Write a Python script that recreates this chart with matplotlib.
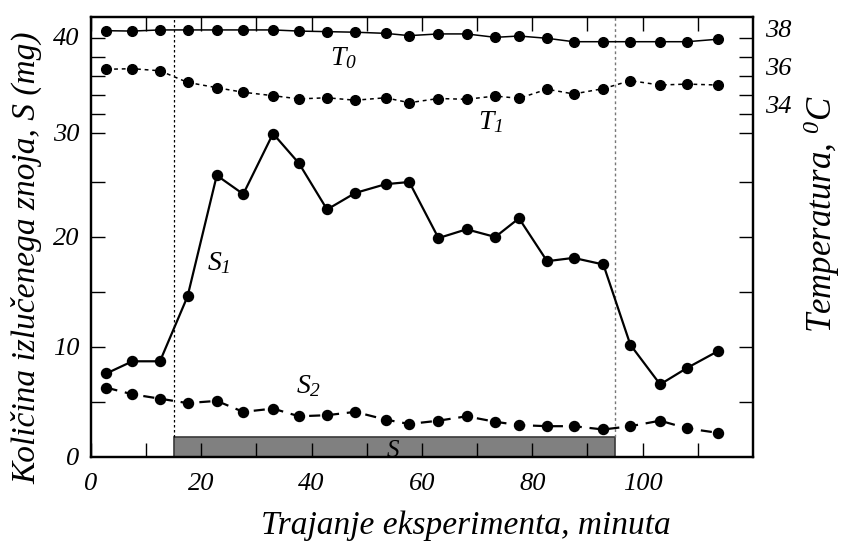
import matplotlib
matplotlib.use("Agg")
import matplotlib.pyplot as plt
from matplotlib.ticker import FixedLocator, NullFormatter
from matplotlib.transforms import ScaledTranslation

# Time of each measurement, minutes
minutes = [2.8, 7.5, 12.5, 17.5, 22.8, 27.6, 33.0, 37.7, 42.8, 47.9, 53.4, 57.7,
           63.0, 68.1, 73.3, 77.6, 82.7, 87.5, 92.9, 97.8, 103.2, 108.1, 113.6]

# Amount of secreted sweat, mg
sweat_s1 = [7.6, 8.7, 8.7, 14.6, 25.6, 23.9, 29.4, 26.7, 22.5, 24.0, 24.8, 25.0,
            19.9, 20.7, 20.0, 21.7, 17.8, 18.1, 17.5, 10.2, 6.6, 8.1, 9.6]
sweat_s2 = [6.3, 5.7, 5.3, 4.9, 5.1, 4.1, 4.4, 3.7, 3.8, 4.1, 3.4, 3.0,
            3.3, 3.7, 3.2, 2.9, 2.8, 2.8, 2.5, 2.8, 3.3, 2.6, 2.2]

# Temperatures, deg C
temp_t0 = [38.40, 38.38, 38.44, 38.44, 38.44, 38.44, 38.44, 38.38, 38.35, 38.32,
           38.26, 38.14, 38.23, 38.23, 38.05, 38.12, 38.00, 37.82, 37.82, 37.82,
           37.82, 37.82, 37.95]
temp_t1 = [36.37, 36.40, 36.29, 35.68, 35.40, 35.16, 34.98, 34.81, 34.87, 34.74,
           34.87, 34.61, 34.83, 34.79, 34.96, 34.84, 35.32, 35.07, 35.35, 35.77,
           35.54, 35.59, 35.54]

# Stimulation period S
stim_start, stim_end = 15, 95

x_ticks = [0, 20, 40, 60, 80, 100]
s_ticks = [0, 10, 20, 30, 40]
t_ticks = [34, 36, 38]

plt.rcParams.update({
    "font.family": ["Liberation Serif", "DejaVu Serif"],
    "font.style": "italic",
    "mathtext.fontset": "custom",
    "mathtext.it": "Liberation Serif:italic",
    "mathtext.rm": "Liberation Serif:italic",
    "mathtext.cal": "Liberation Serif:italic",
    "axes.linewidth": 1.6,
})

fig = plt.figure(figsize=(8.43, 5.43), dpi=100)
ax = fig.add_axes([0.108, 0.1584, 0.785, 0.8103])
ax2 = ax.twinx()

# S axis
ax.set_xlim(0, 120)
ax.set_ylim(0, 40)

ax.bar(stim_start, 1.85, width=stim_end - stim_start, align="edge",
       color="#808080", edgecolor="#3a3a3a", linewidth=1.2, zorder=1)
ax.text((stim_start + stim_end) / 2 - 0.3, 0.5, "S", fontsize=18,
        ha="center", va="center")

ax.axvline(stim_start, ymin=1.85 / 40, ymax=1, color="black", lw=0.9,
           ls=(0, (2, 2)), zorder=1)
ax.axvline(stim_end, ymin=1.85 / 40, ymax=1, color="#777777", lw=1.0,
           ls=(0, (2, 2)), zorder=1)

ax.plot(minutes, sweat_s1, color="black", lw=1.6, marker="o", ms=7.2, zorder=3)
ax.plot(minutes, sweat_s2, color="black", lw=1.6, ls=(0, (5, 3.5)), marker="o",
        ms=7.2, zorder=3)

ax.text(23.2, 17.6, "$S_1$", fontsize=20, ha="center", va="center")
ax.text(39.5, 6.4, "$S_2$", fontsize=20, ha="center", va="center")
ax.text(45.8, 36.3, "$T_0$", fontsize=20, ha="center", va="center")
ax.text(72.4, 30.4, "$T_1$", fontsize=20, ha="center", va="center")

# x ticks: labelled every 20, plain marks in between, on top and bottom
ax.xaxis.set_major_locator(FixedLocator(x_ticks))
ax.xaxis.set_minor_locator(FixedLocator([10, 30, 50, 70, 90, 110]))
ax.tick_params(axis="x", which="both", direction="in", length=10, width=1.0,
               top=True, bottom=True, labelsize=19, pad=11.5)

# y ticks for S: marks every 5 up to 25, labels every 10
ax.yaxis.remove_overlapping_locs = False
ax.yaxis.set_major_locator(FixedLocator(s_ticks))
ax.yaxis.set_minor_locator(FixedLocator([5, 10, 15, 20, 25]))
ax.tick_params(axis="y", which="major", length=0, labelsize=19, pad=8.5,
               left=True, right=False)
ax.tick_params(axis="y", which="minor", direction="in", length=10, width=1.0,
               left=True, right=True)

# Temperature axis
ax2.set_ylim(15.963, 39.121)
ax2.yaxis.set_major_locator(FixedLocator(t_ticks))
ax2.yaxis.set_minor_locator(FixedLocator([33, 35, 37]))
ax2.yaxis.set_minor_formatter(NullFormatter())
ax2.tick_params(axis="y", which="both", direction="in", length=10, width=1.0,
                left=True, right=True, labelleft=False, labelright=True,
                labelsize=19, pad=9)

ax2.plot(minutes, temp_t0, color="black", lw=1.1, marker="o", ms=7, zorder=3)
ax2.plot(minutes, temp_t1, color="black", lw=1.1, ls=(0, (2.5, 2.5)),
         marker="o", ms=7, zorder=3)

for sp in ax2.spines.values():
    sp.set_linewidth(1.6)

# Shift the upper S labels and the temperature labels to where they sit
for tick, dy in zip(ax.yaxis.get_major_ticks(), [0, 0, 0, -6, -20]):
    if dy:
        tick.label1.set_transform(tick.label1.get_transform() +
                                  ScaledTranslation(0, dy / 100, fig.dpi_scale_trans))
for tick in ax2.yaxis.get_major_ticks():
    tick.label2.set_transform(tick.label2.get_transform() +
                              ScaledTranslation(0, 10 / 100, fig.dpi_scale_trans))

fig.text(0.553, 0.031, "Trajanje eksperimenta, minuta", fontsize=24,
         ha="center", va="center")
fig.text(0.032, 0.526, "Količina izlučenega znoja, S (mg)", fontsize=24,
         rotation=90, ha="center", va="center")
fig.text(0.975, 0.606, "Temperatura, $^0C$", fontsize=25, rotation=90,
         ha="center", va="center")

fig.savefig("out.png", dpi=100)
